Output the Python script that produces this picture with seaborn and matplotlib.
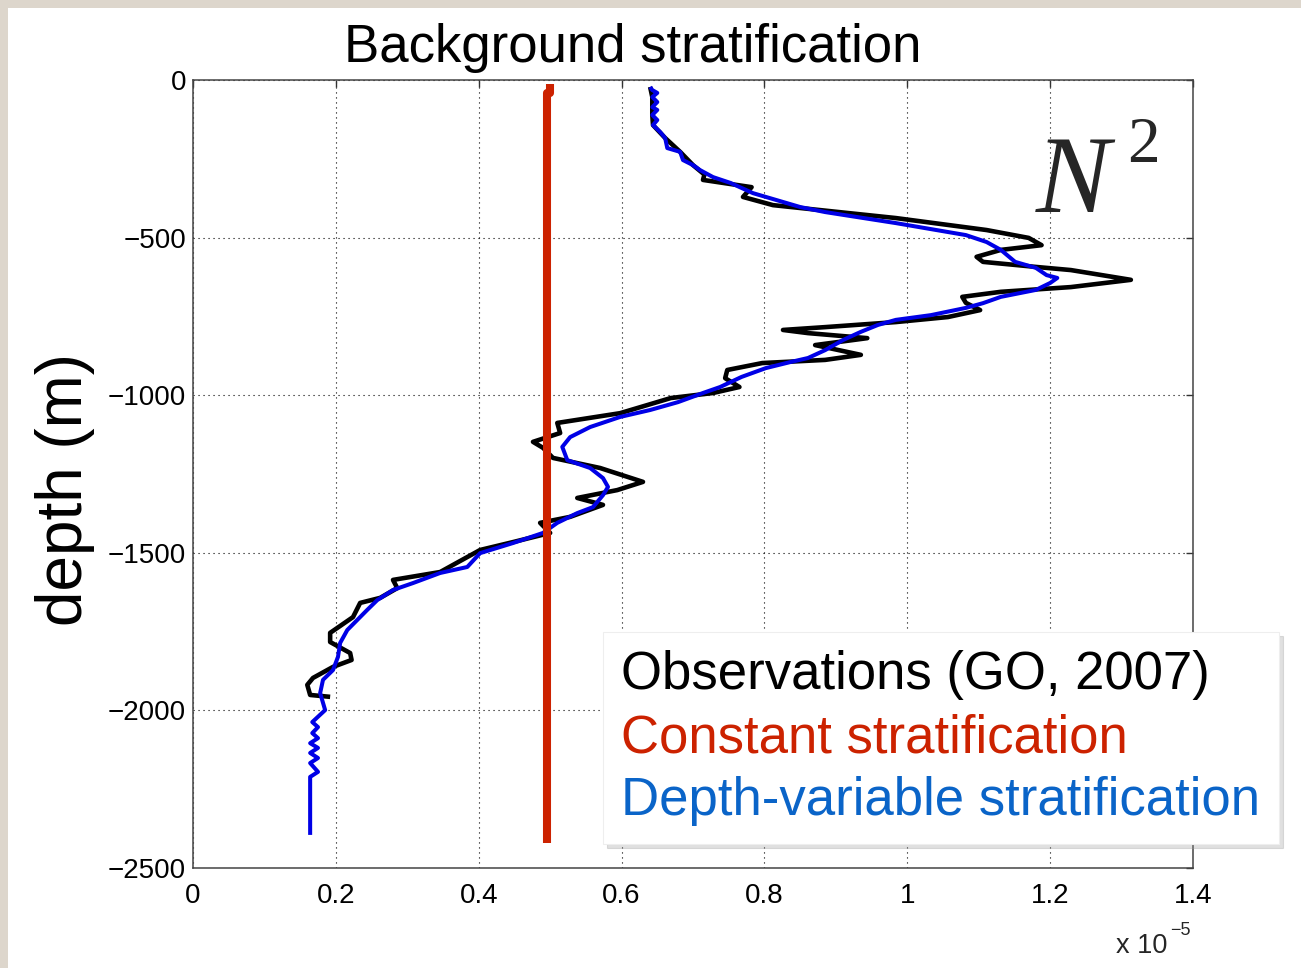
import numpy as np
import matplotlib
matplotlib.use("Agg")
import matplotlib.pyplot as plt
from matplotlib.lines import Line2D
from matplotlib.patches import Rectangle
from matplotlib.ticker import FuncFormatter
import seaborn as sns

# ---------------- data (N^2 in units of 1e-5 s^-2, depth in m) ----------------
obs_depth = [-22, -54, -86, -111, -143, -184, -228, -270, -300, -317, -340, -371, -397, -438, -476,
             -501, -524, -539, -561, -577, -593, -603, -634, -657, -672, -688, -707, -730, -752,
             -768, -784, -793, -803, -819, -841, -872, -888, -898, -920, -946, -974, -993, -1009,
             -1057, -1088, -1120, -1148, -1167, -1199, -1231, -1275, -1301, -1326, -1348, -1386,
             -1405, -1437, -1466, -1491, -1561, -1586, -1612, -1643, -1659, -1704, -1754, -1783,
             -1818, -1840, -1862, -1897, -1919, -1951, -1957]
obs_n2 = [0.640, 0.643, 0.643, 0.643, 0.644, 0.661, 0.682, 0.700, 0.716, 0.714, 0.782, 0.770, 0.812,
          0.984, 1.111, 1.170, 1.188, 1.131, 1.097, 1.106, 1.180, 1.229, 1.313, 1.229, 1.131,
          1.077, 1.082, 1.102, 1.057, 0.984, 0.885, 0.826, 0.861, 0.944, 0.871, 0.935, 0.885,
          0.797, 0.748, 0.745, 0.765, 0.728, 0.669, 0.598, 0.510, 0.514, 0.476, 0.490, 0.504,
          0.570, 0.630, 0.594, 0.538, 0.574, 0.528, 0.486, 0.500, 0.448, 0.402, 0.346, 0.280,
          0.286, 0.262, 0.234, 0.224, 0.192, 0.192, 0.220, 0.222, 0.196, 0.168, 0.160, 0.164,
          0.192]

var_depth = [-22, -32, -41, -54, -70, -86, -95, -111, -127, -143, -165, -184, -216, -228, -254,
             -270, -286, -308, -327, -359, -381, -403, -419, -454, -492, -514, -539, -577, -596,
             -619, -628, -644, -666, -688, -708, -723, -746, -761, -777, -799, -825, -857, -882,
             -895, -914, -942, -974, -993, -1022, -1047, -1069, -1101, -1133, -1164, -1206, -1231,
             -1263, -1291, -1317, -1355, -1374, -1405, -1437, -1469, -1501, -1545, -1564, -1596,
             -1618, -1650, -1681, -1713, -1745, -1786, -1830, -1872, -1903, -1945, -1999, -2037,
             -2053, -2072, -2088, -2104, -2119, -2135, -2151, -2167, -2195, -2211, -2395]
var_n2 = [0.640, 0.643, 0.650, 0.643, 0.650, 0.643, 0.650, 0.643, 0.650, 0.644, 0.654, 0.661,
          0.664, 0.682, 0.686, 0.700, 0.710, 0.728, 0.753, 0.784, 0.817, 0.850, 0.885, 0.984,
          1.082, 1.111, 1.131, 1.151, 1.180, 1.195, 1.210, 1.200, 1.180, 1.131, 1.106, 1.082,
          1.033, 0.984, 0.959, 0.935, 0.910, 0.885, 0.861, 0.836, 0.802, 0.768, 0.738, 0.714,
          0.679, 0.640, 0.598, 0.556, 0.528, 0.517, 0.524, 0.556, 0.574, 0.581, 0.574, 0.560,
          0.538, 0.510, 0.490, 0.448, 0.402, 0.384, 0.346, 0.308, 0.280, 0.258, 0.244, 0.230,
          0.216, 0.206, 0.203, 0.196, 0.182, 0.178, 0.185, 0.167, 0.175, 0.167, 0.175, 0.164,
          0.175, 0.164, 0.175, 0.164, 0.175, 0.164, 0.164]

const_depth = [-12, -40, -40, -2420]
const_n2 = [0.500, 0.500, 0.496, 0.496]

x_ticks = [0, 0.2, 0.4, 0.6, 0.8, 1.0, 1.2, 1.4]
y_ticks = [-2500, -2000, -1500, -1000, -500, 0]
legend_labels = ["Observations (GO, 2007)", "Constant stratification", "Depth-variable stratification"]
legend_colors = ["black", "#cc2200", "#0a64c8"]

# ---------------- styling ----------------
sns.set_theme(style="white")
plt.rcParams["font.family"] = ["Liberation Sans", "DejaVu Sans"]
plt.rcParams["axes.unicode_minus"] = True

W, H = 1301, 968
fig = plt.figure(figsize=(W / 100, H / 100), dpi=100)
fig.patch.set_facecolor("#ddd6cc")
fig.add_artist(Rectangle((8 / W, 0), 1 - 8 / W, 1 - 8 / H, transform=fig.transFigure,
                         facecolor="white", edgecolor="none", zorder=-10))

ax = fig.add_axes([193 / W, 1 - 868 / H, 1000 / W, 788 / H])
ax.set_facecolor("white")

sns.lineplot(x=obs_n2, y=obs_depth, sort=False, estimator=None, color="black",
             lw=3.3, ax=ax, zorder=3, solid_joinstyle="round", solid_capstyle="butt")
sns.lineplot(x=var_n2, y=var_depth, sort=False, estimator=None, color="#0000e6",
             lw=2.9, ax=ax, zorder=4, solid_joinstyle="round", solid_capstyle="butt")
sns.lineplot(x=const_n2, y=const_depth, sort=False, estimator=None, color="#cc2200",
             lw=5.8, ax=ax, zorder=5, solid_capstyle="butt")

ax.set_xlim(0, 1.4)
ax.set_ylim(-2500, 0)
ax.set_xticks(x_ticks)
ax.set_yticks(y_ticks)
ax.xaxis.set_major_formatter(FuncFormatter(lambda v, p: f"{v:g}"))
ax.yaxis.set_major_formatter(FuncFormatter(lambda v, p: f"{v:g}".replace("-", "\u2212")))
ax.tick_params(axis="both", which="both", direction="in", length=5, width=1.0,
               color="#333333", labelsize=20, top=True, right=True, labelcolor="black")
ax.tick_params(axis="x", pad=11)
ax.tick_params(axis="y", pad=5)
ax.grid(True, linestyle=(0, (1, 3.5)), color="black", lw=0.8)
ax.set_axisbelow(True)
for s in ax.spines.values():
    s.set_visible(True)
    s.set_color("#444444")
    s.set_linewidth(1.1)
ax.set_xlabel("")
ax.set_ylabel("")

# titles / labels
fig.text(633 / W, 1 - 62 / H, "Background stratification", ha="center", va="baseline",
         fontsize=38, color="black")
fig.text(82 / W, 1 - 490 / H, "depth (m)", rotation=90, rotation_mode="anchor",
         ha="center", va="baseline", fontsize=46, color="black")
fig.text(1167 / W, 1 - 953 / H, "x 10", ha="right", va="baseline", fontsize=19.5)
fig.text(1170 / W, 1 - 935 / H, "\u22125", ha="left", va="baseline", fontsize=13)

# N^2 annotation
fig.text(1036 / W, 1 - 212 / H, "N", family=["Liberation Serif", "DejaVu Serif"],
         style="italic", fontsize=80, ha="left", va="baseline")
fig.text(1127 / W, 1 - 162 / H, "2", family=["Liberation Serif", "DejaVu Serif"],
         fontsize=47, ha="left", va="baseline")

# legend (text-only entries)
handles = [Line2D([], [], linestyle="none") for _ in legend_labels]
leg = fig.legend(handles, legend_labels, loc="upper left",
                 bbox_to_anchor=(603 / W, 1 - 632 / H), bbox_transform=fig.transFigure,
                 handlelength=0, handletextpad=0, labelcolor=legend_colors, fontsize=38,
                 labelspacing=0.24, borderpad=0.35, borderaxespad=0, frameon=True,
                 fancybox=False, framealpha=1,
                 shadow={"ox": 3, "oy": -3, "color": "0.6", "alpha": 0.3})
leg.get_frame().set_edgecolor("#eeeeee")
leg.get_frame().set_linewidth(0.8)
leg.set_zorder(20)

fig.savefig("out.png", dpi=100, facecolor=fig.get_facecolor())
